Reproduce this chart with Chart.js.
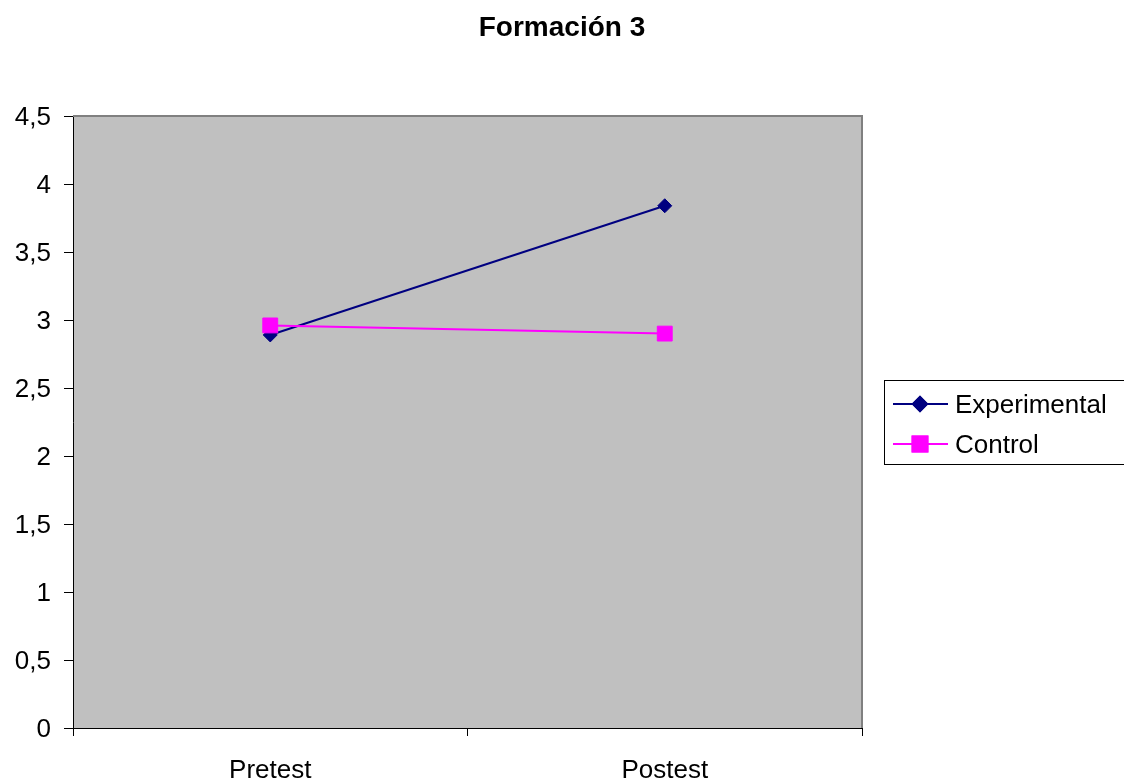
<!DOCTYPE html>
<html>
<head>
<meta charset="utf-8">
<script src="https://cdn.jsdelivr.net/npm/chart.js@4/dist/chart.umd.min.js"></script>
<style>
  html, body { margin: 0; padding: 0; background: #ffffff; }
  #wrap { width: 1124px; height: 783px; position: relative; }
</style>
</head>
<body>
<div id="wrap"><canvas id="c" width="1124" height="783"></canvas></div>
<script>
// Mean scores per phase
const categories = ['Pretest', 'Postest'];
const experimental = [2.89, 3.84];
const control = [2.96, 2.90];
const seriesNames = ['Experimental', 'Control'];
const chartTitle = 'Formación 3';

const FONT = "'Liberation Sans', Arial, sans-serif";

// Grey plot background with a darker frame, plus title and boxed legend
const decor = {
  id: 'decor',
  beforeDraw(chart) {
    const { ctx, chartArea: a } = chart;
    ctx.save();
    ctx.fillStyle = '#c0c0c0';
    ctx.fillRect(a.left, a.top, a.right - a.left, a.bottom - a.top);
    ctx.restore();
  },
  beforeDatasetsDraw(chart) {
    const { ctx, chartArea: a } = chart;
    ctx.save();
    ctx.strokeStyle = '#808080';
    ctx.lineWidth = 2;
    ctx.beginPath();
    ctx.moveTo(a.left, a.top);
    ctx.lineTo(a.right, a.top);
    ctx.lineTo(a.right, a.bottom);
    ctx.stroke();
    ctx.restore();
  },
  afterDraw(chart) {
    const { ctx } = chart;
    ctx.save();
    // title
    ctx.fillStyle = '#000';
    ctx.font = 'bold 28px ' + FONT;
    ctx.textAlign = 'center';
    ctx.textBaseline = 'middle';
    ctx.fillText(chartTitle, 562, 28);

    // legend box
    const bx = 884, by = 380, bw = 250, bh = 84;
    ctx.fillStyle = '#ffffff';
    ctx.fillRect(bx, by, bw, bh);
    ctx.strokeStyle = '#000';
    ctx.lineWidth = 1;
    ctx.strokeRect(bx + 0.5, by + 0.5, bw, bh);

    const rows = [
      { y: 404, ds: chart.data.datasets[0] },
      { y: 444, ds: chart.data.datasets[1] }
    ];
    ctx.font = '26px ' + FONT;
    ctx.textAlign = 'left';
    rows.forEach(r => {
      ctx.strokeStyle = r.ds.borderColor;
      ctx.lineWidth = 2;
      ctx.beginPath();
      ctx.moveTo(893, r.y);
      ctx.lineTo(948, r.y);
      ctx.stroke();
      Chart.helpers.drawPoint(ctx, {
        pointStyle: r.ds.pointStyle,
        radius: r.ds.pointRadius,
        borderWidth: 1,
        rotation: 0
      }, 920, r.y);
      ctx.fillStyle = r.ds.pointBackgroundColor;
      ctx.strokeStyle = r.ds.pointBorderColor;
      ctx.fill();
      ctx.stroke();
      ctx.fillStyle = '#000';
      ctx.fillText(r.ds.label, 955, r.y + 2);
    });
    ctx.restore();
  }
};

new Chart(document.getElementById('c'), {
  type: 'line',
  data: {
    labels: categories,
    datasets: [
      {
        label: seriesNames[0],
        data: experimental,
        order: 2,
        borderColor: '#000080',
        backgroundColor: '#000080',
        pointBackgroundColor: '#000080',
        pointBorderColor: '#000080',
        borderWidth: 2,
        pointStyle: 'rectRot',
        pointRadius: 7,
        pointBorderWidth: 1,
        tension: 0
      },
      {
        label: seriesNames[1],
        data: control,
        order: 1,
        borderColor: '#ff00ff',
        backgroundColor: '#ff00ff',
        pointBackgroundColor: '#ff00ff',
        pointBorderColor: '#ff00ff',
        borderWidth: 2,
        pointStyle: 'rect',
        pointRadius: 10.5,
        pointBorderWidth: 1,
        tension: 0
      }
    ]
  },
  options: {
    responsive: false,
    animation: false,
    devicePixelRatio: 1,
    layout: { padding: { top: 116, right: 262, bottom: 0, left: 0 } },
    plugins: {
      legend: { display: false },
      title: { display: false },
      tooltip: { enabled: false }
    },
    scales: {
      x: {
        type: 'category',
        offset: true,
        afterFit(s) { s.height = 55; },
        grid: {
          offset: true,
          drawOnChartArea: false,
          drawTicks: true,
          tickLength: 8,
          color: '#000'
        },
        border: { display: true, color: '#000', width: 1 },
        ticks: {
          color: '#000',
          font: { family: FONT, size: 26 },
          padding: 19,
          maxRotation: 0
        }
      },
      y: {
        min: 0,
        max: 4.5,
        afterFit(s) { s.width = 73; },
        grid: {
          drawOnChartArea: false,
          drawTicks: true,
          tickLength: 9,
          color: '#000'
        },
        border: { display: true, color: '#000', width: 1 },
        ticks: {
          stepSize: 0.5,
          color: '#000',
          font: { family: FONT, size: 26 },
          padding: 13,
          labelOffset: 2,
          callback: v => String(v).replace('.', ',')
        }
      }
    }
  },
  plugins: [decor]
});
</script>
</body>
</html>
